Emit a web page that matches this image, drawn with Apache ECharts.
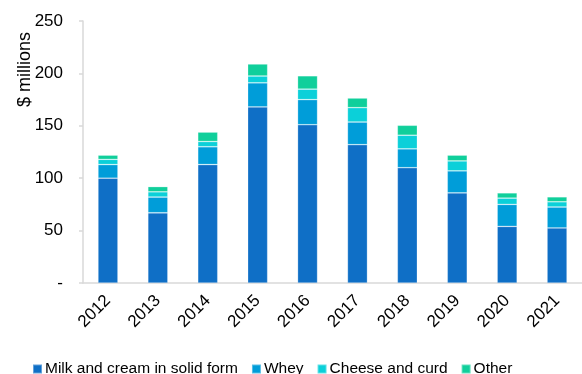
<!DOCTYPE html>
<html>
<head>
<meta charset="utf-8">
<script src="https://cdn.jsdelivr.net/npm/echarts@6/dist/echarts.min.js"></script>
<style>
html,body{margin:0;padding:0;background:#fff;}
#chart{width:582px;height:374px;}
</style>
</head>
<body>
<div id="chart"></div>
<script>
// 年份
var years = ['2012', '2013', '2014', '2015', '2016', '2017', '2018', '2019', '2020', '2021'];
// 各类产品 ($ millions)
var milkCream = [100, 67, 113, 168, 151, 132, 110, 86, 54, 52.5];
var whey = [13, 15, 17, 23, 24, 21.6, 18, 21, 21, 20];
var cheeseCurd = [5, 5, 5, 6.5, 10, 13.7, 13, 9.5, 6, 5];
var other = [4, 5, 9, 11.5, 12.7, 9.2, 9.5, 5.5, 5, 4.7];
var yTicks = [0, 50, 100, 150, 200, 250];

var seriesNames = ['Milk and cream in solid form', 'Whey', 'Cheese and curd', 'Other'];
var seriesData = [milkCream, whey, cheeseCurd, other];
var colors = ['#0F6FC6', '#009DD9', '#0BD0D9', '#10CF9B'];

var series = [];
for (var i = 0; i < seriesData.length; i++) {
	series.push({
		name: seriesNames[i],
		type: 'bar',
		stack: 'total',
		barWidth: 20,
		data: seriesData[i],
		itemStyle: {color: colors[i], borderColor: 'rgba(255,255,255,0.35)', borderWidth: 0.7}
	});
}

var chart = echarts.init(document.getElementById('chart'));
var option = {
	animation: false,
	textStyle: {fontFamily: 'Liberation Sans, Arial, sans-serif'},
	grid: {left: 83, right: -10, top: 21, bottom: 91, containLabel: false},
	legend: {
		left: 27,
		top: 356,
		itemWidth: 9,
		itemHeight: 9,
		itemGap: 13,
		icon: 'rect',
		textStyle: {fontSize: 15.5, color: '#000', padding: [0, 0, 0, -2]},
		data: seriesNames
	},
	graphic: [{
		type: 'text',
		left: 16,
		top: 32,
		rotation: Math.PI / 2,
		style: {text: '$ millions', fill: '#000', font: '18px Liberation Sans, Arial, sans-serif'}
	}],
	xAxis: {
		type: 'category',
		data: years,
		axisLine: {lineStyle: {color: '#d9d9d9', width: 1.5}},
		axisTick: {show: false},
		axisLabel: {rotate: 45, color: '#000', fontSize: 17, margin: 15}
	},
	yAxis: {
		type: 'value',
		min: 0,
		max: 250,
		interval: 50,
		splitLine: {show: false},
		axisLine: {show: true, lineStyle: {color: '#d9d9d9', width: 1.5}},
		axisTick: {show: true, length: 4, lineStyle: {color: '#d9d9d9', width: 1.5}},
		axisLabel: {
			color: '#000',
			fontSize: 17,
			margin: 20,
			formatter: function (v) { return v === yTicks[0] ? '-' : String(v); }
		}
	},
	series: series
};
chart.setOption(option);
</script>
</body>
</html>
